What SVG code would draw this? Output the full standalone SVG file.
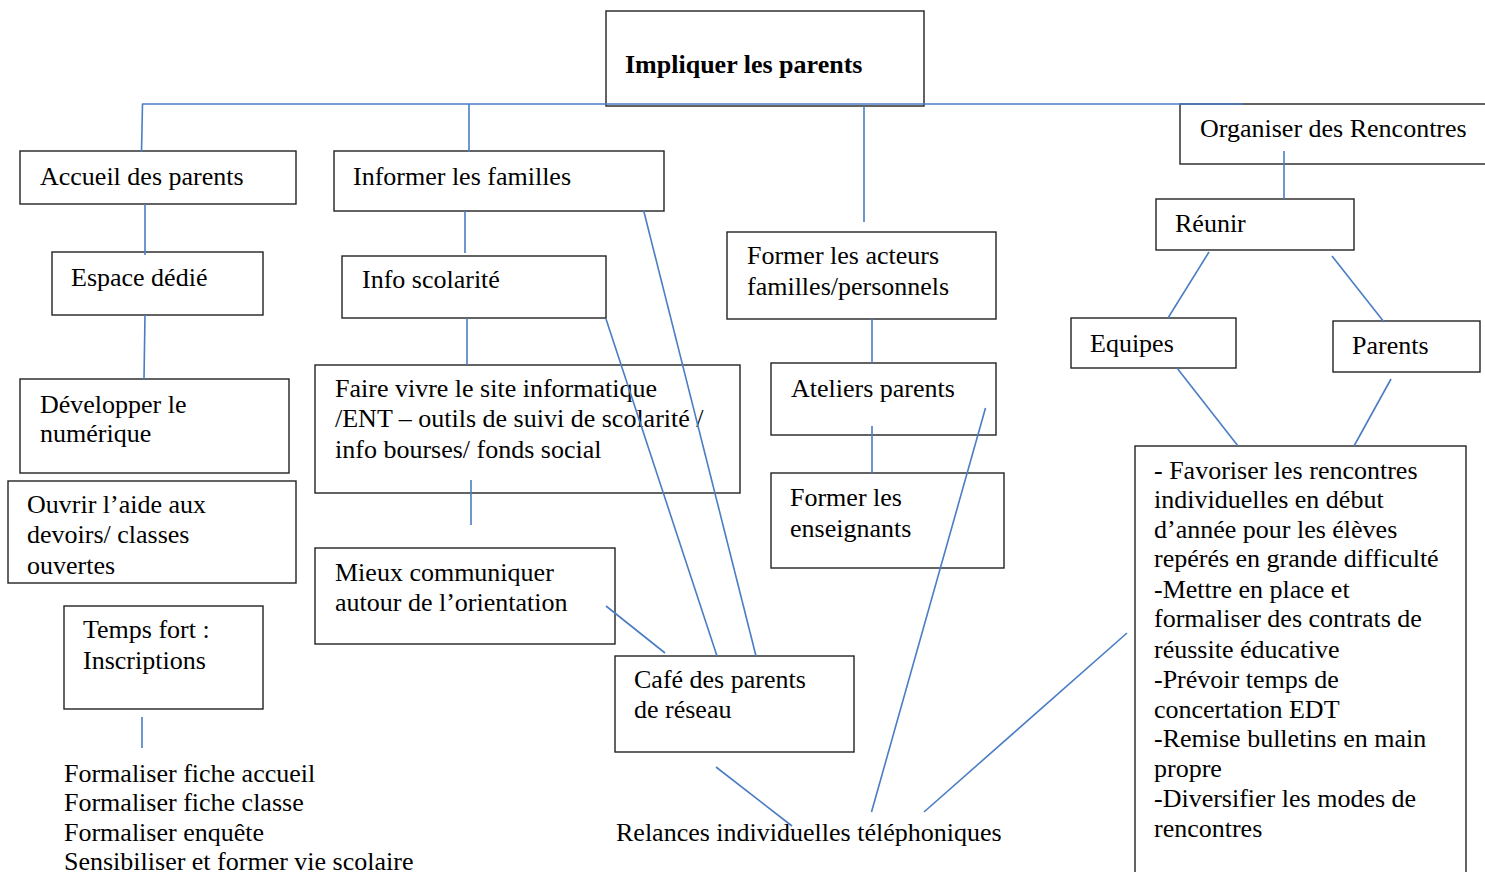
<svg xmlns="http://www.w3.org/2000/svg" width="1485" height="872" viewBox="0 0 1485 872">
<style>
.box{fill:#fff;stroke:#222;stroke-width:1.4}
.t{font-family:"Liberation Serif","Times New Roman",serif;font-size:26px;fill:#000}
.b{font-weight:bold}
.c line{stroke:#4a7dc4;stroke-width:1.6}
</style>
<rect width="1485" height="872" fill="#fff"/>
<g id="n-impliquer"><rect class="box" x="606" y="11" width="318" height="95"/><text class="t b" x="625" y="73">Impliquer les parents</text></g>
<g id="n-accueil"><rect class="box" x="20" y="151" width="276" height="53"/><text class="t" x="40" y="185">Accueil des parents</text></g>
<g id="n-informer"><rect class="box" x="334" y="151" width="330" height="60"/><text class="t" x="353" y="185">Informer les familles</text></g>
<g id="n-espace"><rect class="box" x="52" y="252" width="211" height="63"/><text class="t" x="71" y="286">Espace dédié</text></g>
<g id="n-info"><rect class="box" x="342" y="256" width="264" height="62"/><text class="t" x="362" y="288">Info scolarité</text></g>
<g id="n-developper"><rect class="box" x="20" y="379" width="269" height="94"/><text class="t" x="40" y="413">Développer le</text><text class="t" x="40" y="442">numérique</text></g>
<g id="n-ouvrir"><rect class="box" x="8" y="481" width="288" height="102"/><text class="t" x="27" y="513">Ouvrir l’aide aux</text><text class="t" x="27" y="543">devoirs/ classes</text><text class="t" x="27" y="574">ouvertes</text></g>
<g id="n-temps"><rect class="box" x="64" y="606" width="199" height="103"/><text class="t" x="83" y="638">Temps fort :</text><text class="t" x="83" y="669">Inscriptions</text></g>
<g id="n-faire"><rect class="box" x="315" y="365" width="425" height="128"/><text class="t" x="335" y="397">Faire vivre le site informatique</text><text class="t" x="335" y="427">/ENT – outils de suivi de scolarité /</text><text class="t" x="335" y="458">info bourses/ fonds social</text></g>
<g id="n-mieux"><rect class="box" x="315" y="548" width="300" height="96"/><text class="t" x="335" y="581">Mieux communiquer</text><text class="t" x="335" y="611">autour de l’orientation</text></g>
<g id="n-cafe"><rect class="box" x="615" y="656" width="239" height="96"/><text class="t" x="634" y="688">Café des parents</text><text class="t" x="634" y="718">de réseau</text></g>
<g id="n-former-acteurs"><rect class="box" x="727" y="232" width="269" height="87"/><text class="t" x="747" y="264">Former les acteurs</text><text class="t" x="747" y="295">familles/personnels</text></g>
<g id="n-ateliers"><rect class="box" x="771" y="363" width="225" height="72"/><text class="t" x="791" y="397">Ateliers parents</text></g>
<g id="n-former-ens"><rect class="box" x="771" y="473" width="233" height="95"/><text class="t" x="790" y="506">Former les</text><text class="t" x="790" y="537">enseignants</text></g>
<g id="n-organiser"><rect class="box" x="1180" y="104" width="320" height="60"/><text class="t" x="1200" y="137">Organiser des Rencontres</text></g>
<g id="n-reunir"><rect class="box" x="1156" y="199" width="198" height="51"/><text class="t" x="1175" y="232">Réunir</text></g>
<g id="n-equipes"><rect class="box" x="1071" y="318" width="165" height="50"/><text class="t" x="1090" y="352">Equipes</text></g>
<g id="n-parents"><rect class="box" x="1333" y="321" width="147" height="51"/><text class="t" x="1352" y="354">Parents</text></g>
<g id="n-actions"><rect class="box" x="1135" y="446" width="331" height="440"/>
<text class="t" x="1154" y="479">- Favoriser les rencontres</text>
<text class="t" x="1154" y="508">individuelles en début</text>
<text class="t" x="1154" y="538">d’année pour les élèves</text>
<text class="t" x="1154" y="567">repérés en grande difficulté</text>
<text class="t" x="1154" y="598">-Mettre en place et</text>
<text class="t" x="1154" y="627">formaliser des contrats de</text>
<text class="t" x="1154" y="658">réussite éducative</text>
<text class="t" x="1154" y="688">-Prévoir temps de</text>
<text class="t" x="1154" y="718">concertation EDT</text>
<text class="t" x="1154" y="747">-Remise bulletins en main</text>
<text class="t" x="1154" y="777">propre</text>
<text class="t" x="1154" y="807">-Diversifier les modes de</text>
<text class="t" x="1154" y="837">rencontres</text>
</g>
<g id="n-formaliser">
<text class="t" x="64" y="782">Formaliser fiche accueil</text>
<text class="t" x="64" y="811">Formaliser fiche classe</text>
<text class="t" x="64" y="841">Formaliser enquête</text>
<text class="t" x="64" y="870">Sensibiliser et former vie scolaire</text>
</g>
<g id="n-relances"><text class="t" x="616" y="841">Relances individuelles téléphoniques</text></g>
<g id="connectors" class="c">
<line x1="142" y1="104" x2="1243" y2="104"/>
<line x1="142.5" y1="104" x2="141.5" y2="152"/>
<line x1="469" y1="104" x2="469" y2="152"/>
<line x1="864" y1="106" x2="864" y2="222"/>
<line x1="1284" y1="151" x2="1284" y2="199"/>
<line x1="1209" y1="252" x2="1168" y2="318"/>
<line x1="1332" y1="256" x2="1384" y2="322"/>
<line x1="145" y1="204" x2="145" y2="255"/>
<line x1="145" y1="315" x2="144" y2="379"/>
<line x1="465" y1="211" x2="465" y2="253"/>
<line x1="467" y1="318" x2="467" y2="365"/>
<line x1="471" y1="480" x2="471" y2="525"/>
<line x1="643.5" y1="210" x2="756" y2="656"/>
<line x1="606" y1="319" x2="717" y2="656"/>
<line x1="606" y1="606" x2="665" y2="653"/>
<line x1="142" y1="717" x2="142" y2="748"/>
<line x1="716" y1="767" x2="792" y2="826"/>
<line x1="872" y1="319" x2="872" y2="363"/>
<line x1="872" y1="426" x2="872" y2="473"/>
<line x1="985.5" y1="408" x2="871.5" y2="812"/>
<line x1="1127" y1="633" x2="924" y2="812"/>
<line x1="1177" y1="368" x2="1238" y2="446"/>
<line x1="1391" y1="379" x2="1354" y2="446"/>
</g>
</svg>
